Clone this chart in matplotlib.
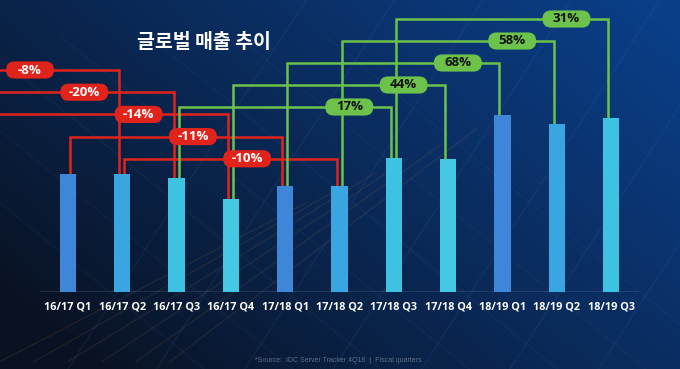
import numpy as np
import matplotlib
matplotlib.use("Agg")
import matplotlib.pyplot as plt
from matplotlib.patches import BoxStyle

# data
quarters = ["16/17 Q1", "16/17 Q2", "16/17 Q3", "16/17 Q4", "17/18 Q1", "17/18 Q2",
            "17/18 Q3", "17/18 Q4", "18/19 Q1", "18/19 Q2", "18/19 Q3"]
revenue = [118, 118, 114, 93, 106, 106, 134, 133, 177, 168, 174]
yoy_labels = ["-8%", "-20%", "-14%", "-11%", "-10%", "17%", "44%", "68%", "58%", "31%"]
yoy_to = [1, 2, 3, 4, 5, 6, 7, 8, 9, 10]   # index of the quarter each growth figure belongs to

title = "글로벌 매출 추이"
source = "*Source:  IDC Server Tracker 4Q18  |  Fiscal quarters"

q_colors = {"Q1": "#3d86d8", "Q2": "#39a6e1", "Q3": "#3ec2e2", "Q4": "#45c9e2"}
red, green = "#e0241c", "#6cc24a"

W, H, DPI = 680, 369, 100
fig = plt.figure(figsize=(W / DPI, H / DPI), dpi=DPI)

# background
bg = fig.add_axes([0, 0, 1, 1], zorder=0)
yy, xx = np.mgrid[0:1:H * 1j, 0:1:W * 1j]
t = np.clip(0.7 * xx + 0.45 * (1 - yy) - 0.1, 0, 1)
dark = np.array([9, 18, 34]) / 255
light = np.array([11, 62, 135]) / 255
img = dark + (light - dark) * t[..., None] ** 0.9
bg.imshow(img, aspect="auto", extent=[0, 1, 0, 1])
for k in range(7):
    x0 = 0.1 + 0.13 * k
    bg.plot([x0, x0 + 0.35], [0, 1], color="#4a7fc0", alpha=0.1, lw=1)
    bg.plot([x0 + 0.2, x0 - 0.4], [0, 0.9], color="#4a7fc0", alpha=0.07, lw=1)
for k in range(6):
    bg.plot([0.0 + 0.05 * k, 0.45 + 0.05 * k], [0.02, 0.45 + 0.04 * k],
            color="#c07a3a", alpha=0.12, lw=1)
bg.set_xlim(0, 1)
bg.set_ylim(0, 1)
bg.axis("off")

# chart axes: bottom edge at the baseline
step = 54.3
ax = fig.add_axes([0, 77 / H, 1, 292 / H], zorder=1)
ax.patch.set_alpha(0)
x = np.arange(len(quarters))
colors = [q_colors[q[-2:]] for q in quarters]
ax.bar(x, revenue, width=0.3, color=colors, zorder=3)
ax.set_xlim(-68 / step, (W - 68) / step)
ax.set_ylim(0, 292)
ax.set_xticks(x, quarters)
ax.tick_params(axis="x", length=0, pad=7, labelsize=7.8, labelcolor="white")
for lbl in ax.get_xticklabels():
    lbl.set_fontfamily("Open Sans")
    lbl.set_fontweight("bold")
ax.set_yticks([])
for s in ax.spines.values():
    s.set_visible(False)
ax.axhline(0.5, xmin=40 / W, xmax=638 / W, color="#8a97a8", lw=1, zorder=2)


def pill(x0, y0, width, height, mutation_size):
    w = 3.64 * mutation_size
    h = 1.3 * mutation_size
    cx, cy = x0 + width / 2, y0 + height / 2
    return BoxStyle.Round(pad=0, rounding_size=0.65)(cx - w / 2, cy - h / 2, w, h, mutation_size)


left_edge = ax.get_xlim()[0]
neg_k, pos_k = 0, 0
for lab, j in zip(yoy_labels, yoy_to):
    i = j - 4
    if lab.startswith("-"):
        level, col, tcol, off = 222 - 22.2 * neg_k, red, "white", 1.7
        neg_k += 1
    else:
        level, col, tcol, off = 185 + 22 * pos_k, green, "#111111", 0.82
        pos_k += 1
    xe = j - 0.055
    if i >= 0:
        xs = i + 0.04
        ax.plot([xs, xs, xe, xe], [revenue[i], level, level, revenue[j]],
                color=col, lw=1.8, zorder=2, solid_joinstyle="miter")
    else:
        # previous-year quarter lies off the left edge
        ax.plot([left_edge - 1, xe, xe], [level, level, revenue[j]],
                color=col, lw=1.8, zorder=2, solid_joinstyle="miter")
    ax.text(j - off, level, lab, ha="center", va="center", fontsize=9.5,
            fontweight="bold", family="Open Sans", color=tcol, zorder=5,
            bbox=dict(boxstyle=pill, fc=col, ec="none"))

fig.text(204 / W, 1 - 42 / H, title, ha="center", va="center", color="white",
         fontsize=14, fontweight="bold", family=["Noto Sans CJK KR", "DejaVu Sans"])
fig.text(255 / W, 1 - 360 / H, source, ha="left", va="center", color="#5f7088",
         fontsize=5, family="Liberation Sans")

fig.savefig("out.png", dpi=DPI)
